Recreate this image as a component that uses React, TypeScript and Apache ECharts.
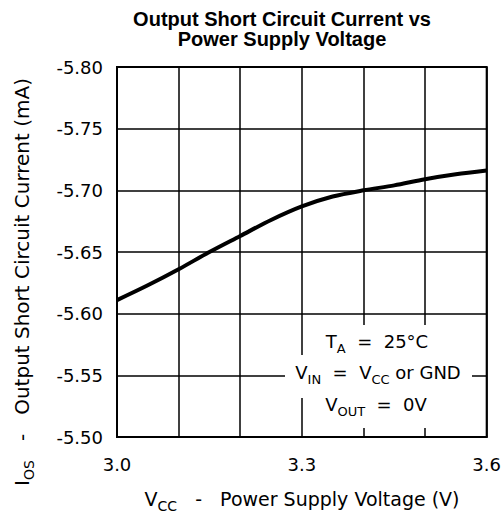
import { useEffect, useRef } from 'react';
import * as echarts from 'echarts';

const vcc = [3.0, 3.05, 3.1, 3.15, 3.2, 3.25, 3.3, 3.35, 3.4, 3.45, 3.5, 3.55, 3.6];
const ios = [-5.611, -5.623, -5.636, -5.65, -5.663, -5.676, -5.687, -5.695, -5.7, -5.704, -5.709, -5.713, -5.716];
const xTickLabels = ['3.0', '3.3', '3.6'];

const F = 'DejaVu Sans';

const mkRich = (size: number, sub: number, lh: number) => ({
  m: { fontSize: size, fontFamily: F, fill: '#000', color: '#000', lineHeight: lh, verticalAlign: 'middle' },
  s: { fontSize: sub, fontFamily: F, fill: '#000', color: '#000', lineHeight: sub, verticalAlign: 'bottom' },
});

export default function App() {
  const ref = useRef<HTMLDivElement>(null);
  useEffect(() => {
    document.body.style.margin = '0';
    const chart = echarts.init(ref.current!, undefined, { renderer: 'svg' });
    const txt = (x: number, y: number, text: string, rich: any, extra: any = {}) => ({
      type: 'text',
      x,
      y,
      z: 101,
      ...extra,
      style: {
        text,
        rich,
        fill: '#000',
        align: 'center',
        textAlign: 'center',
        verticalAlign: 'middle',
        textVerticalAlign: 'middle',
      },
    });
    const titleText = (y: number, text: string) => ({
      type: 'text',
      x: 282,
      y,
      z: 101,
      style: {
        text,
        font: 'bold 20px "Liberation Sans", Arial, sans-serif',
        fill: '#000',
        align: 'center',
        textAlign: 'center',
        verticalAlign: 'middle',
        textVerticalAlign: 'middle',
      },
    });
    const richAnn = mkRich(18, 13, 28);
    chart.setOption({
      animation: false,
      backgroundColor: '#fff',
      grid: {
        left: 117,
        top: 67,
        right: 16,
        bottom: 81,
        show: true,
        borderColor: '#000',
        borderWidth: 2,
        backgroundColor: 'transparent',
      },
      xAxis: {
        type: 'value',
        min: 3.0,
        max: 3.6,
        interval: 0.1,
        axisLine: { show: true, lineStyle: { color: '#000', width: 2 } },
        axisTick: { show: false },
        splitLine: { show: true, lineStyle: { color: '#000', width: 1.5 } },
        axisLabel: {
          margin: 18,
          color: '#000',
          fontFamily: F,
          fontSize: 18,
          showMinLabel: true,
          showMaxLabel: true,
          formatter: (v: number) => {
            const s = v.toFixed(1);
            return xTickLabels.includes(s) ? s : '';
          },
        },
      },
      yAxis: {
        type: 'value',
        inverse: true,
        min: -5.8,
        max: -5.5,
        interval: 0.05,
        axisLine: { show: true, lineStyle: { color: '#000', width: 2 } },
        axisTick: { show: false },
        splitLine: { show: true, lineStyle: { color: '#000', width: 1.5 } },
        axisLabel: {
          margin: 14,
          color: '#000',
          fontFamily: F,
          fontSize: 18,
          formatter: (v: number) => v.toFixed(2),
        },
      },
      series: [
        {
          type: 'line',
          data: vcc.map((x, i) => [x, ios[i]]),
          smooth: 0.3,
          symbol: 'none',
          showSymbol: false,
          lineStyle: { color: '#000', width: 4 },
          z: 5,
        },
      ],
      graphic: [
        { type: 'rect', z: 100, shape: { x: 306, y: 325, width: 141, height: 103 }, style: { fill: '#fff' } },
        { type: 'rect', z: 100, shape: { x: 285, y: 355, width: 187, height: 43 }, style: { fill: '#fff' } },
        txt(377, 341, '{m|T}{s|A}{m|  =  25°C}', richAnn),
        txt(378, 372, '{m|V}{s|IN}{m|  =  V}{s|CC}{m| or GND}', richAnn),
        txt(376, 404, '{m|V}{s|OUT}{m|  =  0V}', richAnn),
        txt(302, 499, '{m|V}{s|CC}{m|   -   Power Supply Voltage (V)}', mkRich(19, 14, 28)),
        txt(22, 282, '{m|I}{s|OS}{m|   -   Output Short Circuit Current (mA)}', mkRich(20, 14, 28), {
          rotation: Math.PI / 2,
        }),
        titleText(19, 'Output Short Circuit Current vs'),
        titleText(39, 'Power Supply Voltage'),
      ],
    });
    return () => chart.dispose();
  }, []);
  return <div ref={ref} style={{ width: 504, height: 518 }} />;
}
